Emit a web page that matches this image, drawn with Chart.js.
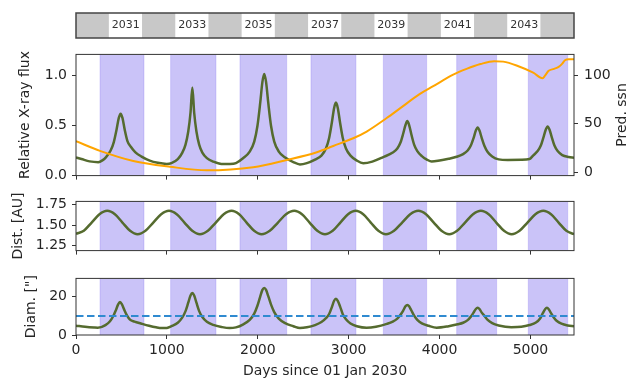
<!DOCTYPE html>
<html>
<head>
<meta charset="utf-8">
<script src="https://cdn.jsdelivr.net/npm/chart.js@4.4.1/dist/chart.umd.min.js"></script>
<style>
  body { margin: 0; background: #fff; }
  #wrap { position: relative; width: 630px; height: 380px; }
  #wrap canvas { position: absolute; left: 0; }
</style>
</head>
<body>
<div id="wrap">
  <canvas id="years" width="630" height="40" style="top:5px"></canvas>
  <canvas id="flux" width="630" height="150" style="top:40px"></canvas>
  <canvas id="dist" width="630" height="76" style="top:188px"></canvas>
  <canvas id="diam" width="630" height="115" style="top:265px"></canvas>
</div>
<script>
// days since 01 Jan 2030
const X_MAX = 5479
const dayTicks = [0, 1000, 2000, 3000, 4000, 5000]

// calendar strip
const yearNames = [2030, 2031, 2032, 2033, 2034, 2035, 2036, 2037, 2038, 2039, 2040, 2041, 2042, 2043, 2044]
const yearStarts = [0, 365, 730, 1096, 1461, 1826, 2191, 2557, 2922, 3287, 3652, 4018, 4383, 4748, 5113, 5479]

// observing windows (shaded)
const bandStarts = [264, 1041, 1804, 2585, 3381, 4188, 4976]
const bandEnds = [748, 1540, 2318, 3080, 3858, 4628, 5410]

// relative X-ray flux
const fluxDays = [0, 60, 150, 245, 290, 331, 381, 416, 446, 471, 491, 511, 536, 566, 601, 651, 721, 811, 900, 997,
  1050, 1120, 1170, 1205, 1235, 1260, 1280, 1300, 1325, 1355, 1390, 1440, 1510, 1600, 1694,
  1760, 1841, 1911, 1961, 1996, 2026, 2051, 2071, 2091, 2116, 2146, 2181, 2231, 2301, 2391, 2464,
  2540, 2630, 2700, 2750, 2785, 2815, 2840, 2860, 2880, 2905, 2935, 2970, 3020, 3090, 3160,
  3260, 3380, 3485, 3535, 3570, 3600, 3625, 3645, 3665, 3690, 3720, 3755, 3805, 3860, 3913,
  4000, 4100, 4188, 4259, 4309, 4344, 4374, 4399, 4419, 4439, 4464, 4494, 4529, 4579, 4650, 4750, 4900,
  4990, 5029, 5079, 5114, 5144, 5169, 5189, 5209, 5234, 5264, 5299, 5349, 5420, 5479]
const fluxValues = [0.180, 0.165, 0.142, 0.134, 0.152, 0.185, 0.25, 0.335, 0.458, 0.576, 0.618, 0.576, 0.458, 0.345, 0.29, 0.235, 0.19, 0.15, 0.128, 0.117,
  0.125, 0.165, 0.23, 0.31, 0.44, 0.63, 0.879, 0.63, 0.44, 0.31, 0.23, 0.175, 0.14, 0.117, 0.117,
  0.125, 0.175, 0.24, 0.34, 0.495, 0.72, 0.935, 1.015, 0.935, 0.72, 0.495, 0.34, 0.24, 0.18, 0.135, 0.112,
  0.125, 0.16, 0.2, 0.27, 0.375, 0.53, 0.676, 0.729, 0.676, 0.53, 0.375, 0.27, 0.2, 0.15, 0.124,
  0.14, 0.185, 0.23, 0.27, 0.33, 0.42, 0.505, 0.544, 0.505, 0.41, 0.31, 0.245, 0.195, 0.16, 0.14,
  0.15, 0.168, 0.188, 0.215, 0.25, 0.30, 0.375, 0.45, 0.48, 0.45, 0.375, 0.295, 0.235, 0.19, 0.162, 0.156, 0.157,
  0.165, 0.20, 0.245, 0.30, 0.385, 0.46, 0.49, 0.46, 0.385, 0.30, 0.245, 0.205, 0.185, 0.178]
const fluxTicks = [0, 0.5, 1.0]

// predicted sunspot number
const ssnDays = [0, 264, 630, 1034, 1437, 1950, 2318, 2650, 2831, 3050, 3198, 3418, 3564, 3784, 3930,
  4150, 4297, 4450, 4600, 4700, 4847, 5030, 5134, 5160, 5200, 5260, 5310, 5350, 5380, 5420, 5479]
const ssnValues = [32, 22, 11.5, 5.5, 1.8, 5, 12.5, 20.5, 27, 35, 42, 56, 66, 81, 89,
  101, 107, 112, 115, 114.5, 110.5, 103, 97.3, 100, 105, 107, 109, 112.5, 116, 117, 117]
const ssnTicks = [0, 50, 100]

// distance [AU]
const distDays = [0, 86, 172, 258, 344, 428, 511, 595, 678, 764, 850, 937, 1023, 1108, 1193, 1279,
  1364, 1451, 1538, 1625, 1712, 1795, 1877, 1960, 2042, 2132, 2222, 2311, 2401, 2486, 2570, 2655,
  2739, 2824, 2908, 2993, 3077, 3160, 3243, 3327, 3410, 3499, 3588, 3677, 3766, 3851, 3936, 4021,
  4106, 4193, 4280, 4368, 4455, 4540, 4624, 4709, 4793, 4880, 4967, 5054, 5141, 5226, 5310, 5395, 5479]
const distValues = [1.395, 1.432, 1.532, 1.633, 1.675, 1.633, 1.532, 1.432, 1.39, 1.432, 1.532, 1.633, 1.675, 1.633, 1.532, 1.432,
  1.39, 1.432, 1.532, 1.633, 1.675, 1.633, 1.532, 1.432, 1.39, 1.432, 1.532, 1.633, 1.675, 1.633, 1.532, 1.432,
  1.39, 1.432, 1.532, 1.633, 1.675, 1.633, 1.532, 1.432, 1.39, 1.432, 1.532, 1.633, 1.675, 1.633, 1.532, 1.432,
  1.39, 1.432, 1.532, 1.633, 1.675, 1.633, 1.532, 1.432, 1.39, 1.432, 1.532, 1.633, 1.675, 1.633, 1.532, 1.432, 1.39]
const distTicks = [1.25, 1.5, 1.75]

// apparent diameter ["]
const diamDays = [0, 100, 200, 240, 324, 374, 409, 439, 464, 484, 504, 529, 559, 594, 644, 714, 804, 880, 943,
  1000, 1050, 1120, 1170, 1205, 1235, 1260, 1280, 1300, 1325, 1355, 1390, 1440, 1510, 1600, 1690,
  1760, 1841, 1911, 1961, 1996, 2026, 2051, 2071, 2091, 2116, 2146, 2181, 2231, 2301, 2391, 2464,
  2540, 2630, 2700, 2750, 2785, 2815, 2840, 2860, 2880, 2905, 2935, 2970, 3020, 3090, 3197,
  3300, 3420, 3485, 3535, 3570, 3600, 3625, 3645, 3665, 3690, 3720, 3755, 3805, 3880, 3968,
  4100, 4200, 4259, 4309, 4344, 4374, 4399, 4419, 4439, 4464, 4494, 4529, 4579, 4650, 4790,
  4900, 4990, 5060, 5106, 5136, 5161, 5181, 5201, 5226, 5256, 5291, 5341, 5410, 5479]
const diamValues = [4.9, 4.3, 3.9, 3.8, 5.2, 7.2, 9.8, 13.0, 16.0, 17.2, 16.2, 13.4, 10.4, 8.0, 7.0, 6.0, 4.8, 4.0, 3.6,
  3.7, 4.6, 6.4, 9.2, 12.5, 16.9, 20.7, 22.0, 20.7, 16.9, 12.5, 9.4, 6.9, 5.3, 4.2, 3.6,
  4.0, 5.6, 7.9, 11.2, 15.3, 20.0, 23.6, 24.6, 23.6, 20.2, 15.9, 12.0, 8.6, 6.2, 4.6, 3.6,
  4.0, 5.2, 6.8, 8.8, 11.0, 14.6, 17.9, 18.9, 17.9, 15.0, 10.9, 8.2, 6.0, 4.6, 3.8,
  4.3, 5.8, 7.0, 8.6, 10.6, 12.8, 15.0, 15.7, 15.0, 12.8, 10.1, 7.9, 6.1, 4.8, 3.8,
  4.6, 5.6, 6.4, 7.8, 9.6, 11.7, 13.6, 14.2, 13.6, 11.7, 10.0, 7.9, 6.2, 5.0, 4.1,
  4.3, 5.2, 6.5, 8.6, 11.4, 13.5, 14.2, 13.5, 11.4, 9.2, 7.3, 5.9, 5.0, 4.6]
const diamTicks = [0, 20]
const limitDays = [0, X_MAX]
const limitValues = [10, 10]

const GREEN = "#556b2f"
const TEXT = "#262626"
const FONT = { family: "'DejaVu Sans', sans-serif", size: 14 }

Chart.defaults.font.family = FONT.family
Chart.defaults.font.size = FONT.size
Chart.defaults.color = TEXT

const pts = (days, vals) => days.map((d, i) => ({ x: d, y: vals[i] }))

// box round the plot area
const frame = (width, color) => ({
  id: "frame",
  afterDraw(chart) {
    const { ctx, chartArea: a } = chart
    ctx.save()
    ctx.strokeStyle = color
    ctx.lineWidth = width
    ctx.strokeRect(a.left, a.top, a.right - a.left, a.bottom - a.top)
    ctx.restore()
  },
})

// shaded windows behind the curves
const bands = {
  id: "bands",
  beforeDatasetsDraw(chart) {
    const { ctx, chartArea: a, scales } = chart
    ctx.save()
    ctx.beginPath()
    ctx.rect(a.left, a.top, a.right - a.left, a.bottom - a.top)
    ctx.clip()
    bandStarts.forEach((s, i) => {
      const x0 = scales.x.getPixelForValue(s)
      const x1 = scales.x.getPixelForValue(bandEnds[i])
      ctx.fillStyle = "rgba(123, 104, 238, 0.4)"
      ctx.fillRect(x0, a.top, x1 - x0, a.bottom - a.top)
      ctx.strokeStyle = "rgba(123, 104, 238, 0.25)"
      ctx.lineWidth = 1
      ctx.strokeRect(x0, a.top - 2, x1 - x0, a.bottom - a.top + 4)
    })
    ctx.restore()
  },
}

// year numbers on the white cells
const yearLabels = {
  id: "yearLabels",
  afterDatasetsDraw(chart) {
    const { ctx, chartArea: a, scales } = chart
    ctx.save()
    ctx.font = "11px 'DejaVu Sans', sans-serif"
    ctx.fillStyle = "#333"
    ctx.textAlign = "center"
    ctx.textBaseline = "middle"
    yearNames.forEach((y, i) => {
      if (y % 2 === 0) return
      const xc = scales.x.getPixelForValue((yearStarts[i] + yearStarts[i + 1]) / 2)
      ctx.fillText(String(y), xc, (a.top + a.bottom) / 2)
    })
    ctx.restore()
  },
}

// right-hand axis label, reading upwards
const ssnTitle = {
  id: "ssnTitle",
  afterDraw(chart) {
    const { ctx, chartArea: a } = chart
    ctx.save()
    ctx.translate(622, (a.top + a.bottom) / 2)
    ctx.rotate(-Math.PI / 2)
    ctx.font = "14px 'DejaVu Sans', sans-serif"
    ctx.fillStyle = TEXT
    ctx.textAlign = "center"
    ctx.textBaseline = "middle"
    ctx.fillText("Pred. ssn", 0, 0)
    ctx.restore()
  },
}

function xAxis(height, showLabels) {
  return {
    type: "linear",
    min: 0,
    max: X_MAX,
    afterBuildTicks: (axis) => { axis.ticks = dayTicks.map((v) => ({ value: v })) },
    ticks: { display: showLabels, autoSkip: false, maxRotation: 0, padding: 3, callback: (v) => String(v) },
    grid: { drawOnChartArea: false, drawTicks: true, tickLength: 4, tickColor: "#333", color: "#333" },
    border: { display: false },
    title: showLabels ? { display: true, text: "Days since 01 Jan 2030", padding: { top: 0, bottom: 0 } } : { display: false },
    afterFit: (axis) => { axis.height = height },
  }
}

function yAxis(min, max, ticks, fmt, title, titlePad) {
  return {
    type: "linear",
    position: "left",
    min: min,
    max: max,
    afterBuildTicks: (axis) => { axis.ticks = ticks.map((v) => ({ value: v })) },
    ticks: { autoSkip: false, padding: 5, callback: fmt },
    grid: { drawOnChartArea: false, drawTicks: true, tickLength: 4, tickColor: "#333", color: "#333" },
    border: { display: false },
    title: { display: true, text: title, padding: { top: titlePad, bottom: 0 } },
    afterFit: (axis) => { axis.width = 76 },
  }
}

const baseOptions = (padTop, padRight) => ({
  responsive: false,
  animation: false,
  layout: { padding: { top: padTop, left: 0, right: padRight, bottom: 0 } },
  plugins: { legend: { display: false }, tooltip: { enabled: false } },
  elements: { point: { radius: 0 } },
})

// calendar strip
new Chart(document.getElementById("years"), {
  type: "bar",
  data: {
    labels: ["yr"],
    datasets: [{
      data: yearNames.map((y, i) => ({ x: [yearStarts[i], yearStarts[i + 1]], y: "yr" })),
      backgroundColor: yearNames.map((y) => (y % 2 ? "#ffffff" : "#c8c8c8")),
      borderWidth: 0,
      barPercentage: 1,
      categoryPercentage: 1,
    }],
  },
  options: {
    indexAxis: "y",
    responsive: false,
    animation: false,
    layout: { padding: { left: 76, right: 56, top: 8, bottom: 7 } },
    scales: {
      x: { type: "linear", min: 0, max: X_MAX, display: false },
      y: { display: false },
    },
    plugins: { legend: { display: false }, tooltip: { enabled: false } },
  },
  plugins: [yearLabels, frame(1.5, "#444")],
})

// flux + predicted ssn
const fluxOpts = baseOptions(11, 0)
fluxOpts.scales = {
  x: xAxis(12, false),
  y: yAxis(0, 1.21, fluxTicks, (v) => v.toFixed(1), "Relative X-ray flux", 17),
  y2: {
    type: "linear",
    position: "right",
    min: -3.7,
    max: 122,
    afterBuildTicks: (axis) => { axis.ticks = ssnTicks.map((v) => ({ value: v })) },
    ticks: { autoSkip: false, padding: 6, callback: (v) => String(v) },
    grid: { drawOnChartArea: false, drawTicks: true, tickLength: 4, tickColor: "#333", color: "#333" },
    border: { display: false },
    afterFit: (axis) => { axis.width = 56 },
  },
}
new Chart(document.getElementById("flux"), {
  type: "line",
  data: {
    datasets: [
      { data: pts(ssnDays, ssnValues), yAxisID: "y2", borderColor: "#ffa500", borderWidth: 2, pointRadius: 0, cubicInterpolationMode: "monotone" },
      { data: pts(fluxDays, fluxValues), yAxisID: "y", borderColor: GREEN, borderWidth: 2.5, pointRadius: 0, cubicInterpolationMode: "monotone" },
    ],
  },
  options: fluxOpts,
  plugins: [bands, frame(1, "#333"), ssnTitle],
})

// distance
const distOpts = baseOptions(6, 56)
distOpts.scales = {
  x: xAxis(6, false),
  y: yAxis(1.19, 1.79, distTicks, (v) => v.toFixed(2), "Dist. [AU]", 10),
}
new Chart(document.getElementById("dist"), {
  type: "line",
  data: {
    datasets: [
      { data: pts(distDays, distValues), borderColor: GREEN, borderWidth: 2.5, pointRadius: 0, cubicInterpolationMode: "monotone" },
    ],
  },
  options: distOpts,
  plugins: [bands, frame(1, "#333")],
})

// apparent diameter
const diamOpts = baseOptions(6, 56)
diamOpts.scales = {
  x: xAxis(45, true),
  y: yAxis(0, 29.6, diamTicks, (v) => String(v), 'Diam. ["]', 23),
}
new Chart(document.getElementById("diam"), {
  type: "line",
  data: {
    datasets: [
      { data: pts(limitDays, limitValues), borderColor: "#2f8ad0", borderWidth: 2, borderDash: [7.5, 3.5], pointRadius: 0 },
      { data: pts(diamDays, diamValues), borderColor: GREEN, borderWidth: 2.5, pointRadius: 0, cubicInterpolationMode: "monotone" },
    ],
  },
  options: diamOpts,
  plugins: [bands, frame(1, "#333")],
})
</script>
</body>
</html>
